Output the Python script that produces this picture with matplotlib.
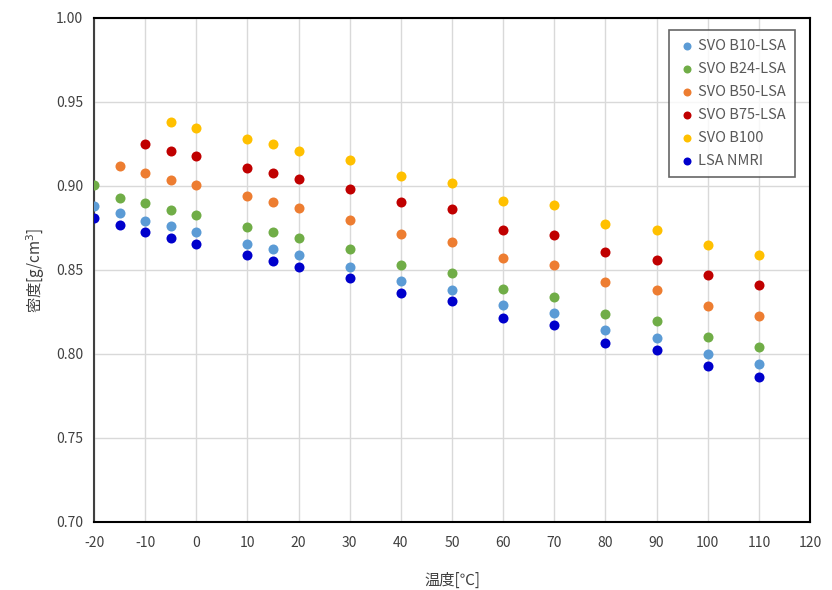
import matplotlib.pyplot as plt

plt.rcParams['font.family'] = ['Noto Sans CJK JP', 'DejaVu Sans']
plt.rcParams['axes.unicode_minus'] = False

temps = [-20, -15, -10, -5, 0, 10, 15, 20, 30, 40, 50, 60, 70, 80, 90, 100, 110]

# None = no measurement at that temperature
b10 = [0.888, 0.8837, 0.8794, 0.876, 0.8726, 0.8657, 0.8623, 0.8588, 0.852, 0.8435,
       0.8383, 0.8292, 0.8246, 0.8145, 0.8095, 0.7998, 0.794]
b24 = [0.9008, 0.893, 0.8897, 0.886, 0.8827, 0.8758, 0.8724, 0.869, 0.8623, 0.8528,
       0.8484, 0.8385, 0.8341, 0.8238, 0.8196, 0.8101, 0.8042]
b50 = [None, 0.9117, 0.9075, 0.9038, 0.9006, 0.8938, 0.8903, 0.887, 0.8798, 0.8714,
       0.8667, 0.8571, 0.8528, 0.8427, 0.8383, 0.8288, 0.8228]
b75 = [None, None, 0.9248, 0.921, 0.9177, 0.9107, 0.9077, 0.904, 0.898, 0.8905,
       0.8863, 0.874, 0.8706, 0.8605, 0.8561, 0.8468, 0.8409]
b100 = [None, None, None, 0.9383, 0.9347, 0.9282, 0.9248, 0.921, 0.9155, 0.9058,
        0.9016, 0.8913, 0.8889, 0.8776, 0.874, 0.8649, 0.8589]
nmri = [0.881, 0.8766, 0.8724, 0.8689, 0.8653, 0.8588, 0.8554, 0.8518, 0.845, 0.8365,
        0.8314, 0.8212, 0.8173, 0.8067, 0.8024, 0.793, 0.7863]

series = [
    ('SVO B10-LSA', b10, '#5B9BD5'),
    ('SVO B24-LSA', b24, '#70AD47'),
    ('SVO B50-LSA', b50, '#ED7D31'),
    ('SVO B75-LSA', b75, '#C00000'),
    ('SVO B100', b100, '#FFC000'),
    ('LSA NMRI', nmri, '#0000CC'),
]

fig = plt.figure(figsize=(8.32, 5.9), dpi=100)
ax = fig.add_axes([0.113, 0.1153, 0.8606, 0.8542])

for name, vals, col in series:
    xs = [t for t, v in zip(temps, vals) if v is not None]
    ys = [v for v in vals if v is not None]
    ax.scatter(xs, ys, s=52, color=col, label=name, zorder=3, linewidths=0)

ax.set_xlim(-20, 120)
ax.set_ylim(0.70, 1.00)
ax.set_xticks(range(-20, 121, 10))
ax.set_yticks([0.70, 0.75, 0.80, 0.85, 0.90, 0.95, 1.00])
ax.set_yticklabels([f'{v:.2f}' for v in ax.get_yticks()])
ax.grid(True, color='#D9D9D9', linewidth=1)
ax.set_axisbelow(True)
ax.tick_params(length=0, labelsize=10, colors='#404040', pad=8)
ax.tick_params(axis='x', pad=10)
ax.spines['left'].set_color('#404040')
ax.spines['bottom'].set_color('black')
ax.spines['right'].set_color('black')
ax.spines['top'].set_color('black')
for sp in ax.spines.values():
    sp.set_linewidth(1.5)

ax.set_xlabel('温度[℃]', fontsize=11, color='#404040', labelpad=16)
ax.set_ylabel('密度[g/cm$^3$]', fontsize=11, color='#404040', labelpad=6)

leg = ax.legend(loc='upper right', bbox_to_anchor=(0.979, 0.976), borderaxespad=0,
                fontsize=10.5, frameon=True, fancybox=False, edgecolor='#404040',
                handletextpad=0.1, labelspacing=0.62, markerscale=0.8, borderpad=0.6,
                handlelength=1.3)
leg.get_frame().set_linewidth(1.2)
for t in leg.get_texts():
    t.set_color('#595959')

fig.savefig('out.png', dpi=100)
